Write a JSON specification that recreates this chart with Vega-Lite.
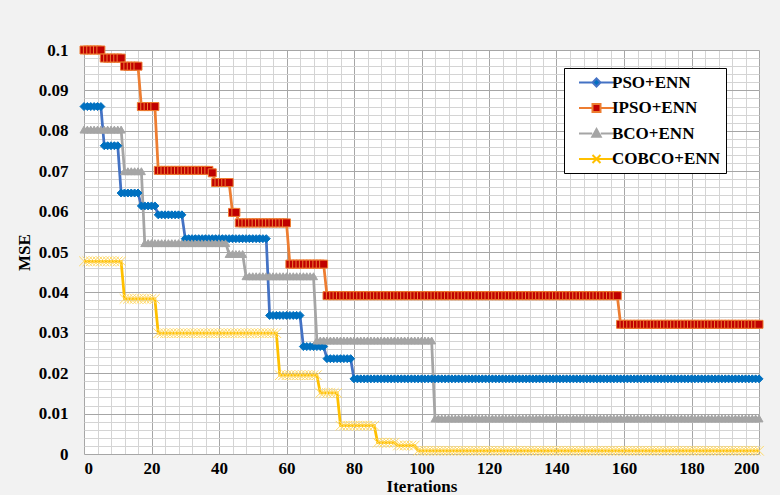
{
"$schema": "https://vega.github.io/schema/vega-lite/v6.json",
"width": 675, "height": 404,
"autosize": "none",
"padding": {"left": 84, "top": 50, "right": 21, "bottom": 41},
"background": "#f2f2f2",
"config": {
 "view": {"fill": "white", "stroke": null},
 "font": "Liberation Serif",
 "legend": {"orient": "none", "legendX": 480, "legendY": 18, "strokeColor": "black", "fillColor": "white", "padding": 6, "labelFont": "Liberation Serif", "labelFontWeight": "bold", "labelFontSize": 17, "labelColor": "black", "symbolSize": 100, "symbolStrokeWidth": 2, "rowPadding": 7.5, "symbolOffset": 18, "labelOffset": 7}
},
"data": {"values": [
{"i":0,"P":0.086,"I":0.1,"B":0.0803,"C":0.0477},
{"i":1,"P":0.086,"I":0.1,"B":0.0803,"C":0.0477},
{"i":2,"P":0.086,"I":0.1,"B":0.0803,"C":0.0477},
{"i":3,"P":0.086,"I":0.1,"B":0.0803,"C":0.0477},
{"i":4,"P":0.086,"I":0.1,"B":0.0803,"C":0.0477},
{"i":5,"P":0.086,"I":0.1,"B":0.0803,"C":0.0477},
{"i":6,"P":0.0763,"I":0.098,"B":0.0803,"C":0.0477},
{"i":7,"P":0.0763,"I":0.098,"B":0.0803,"C":0.0477},
{"i":8,"P":0.0763,"I":0.098,"B":0.0803,"C":0.0477},
{"i":9,"P":0.0763,"I":0.098,"B":0.0803,"C":0.0477},
{"i":10,"P":0.0763,"I":0.098,"B":0.0803,"C":0.0477},
{"i":11,"P":0.0646,"I":0.098,"B":0.0803,"C":0.0477},
{"i":12,"P":0.0646,"I":0.096,"B":0.07,"C":0.0384},
{"i":13,"P":0.0646,"I":0.096,"B":0.07,"C":0.0384},
{"i":14,"P":0.0646,"I":0.096,"B":0.07,"C":0.0384},
{"i":15,"P":0.0646,"I":0.096,"B":0.07,"C":0.0384},
{"i":16,"P":0.0646,"I":0.096,"B":0.07,"C":0.0384},
{"i":17,"P":0.0614,"I":0.086,"B":0.07,"C":0.0384},
{"i":18,"P":0.0614,"I":0.086,"B":0.0522,"C":0.0384},
{"i":19,"P":0.0614,"I":0.086,"B":0.0522,"C":0.0384},
{"i":20,"P":0.0614,"I":0.086,"B":0.0522,"C":0.0384},
{"i":21,"P":0.0614,"I":0.086,"B":0.0522,"C":0.0384},
{"i":22,"P":0.0592,"I":0.0702,"B":0.0522,"C":0.0299},
{"i":23,"P":0.0592,"I":0.0702,"B":0.0522,"C":0.0299},
{"i":24,"P":0.0592,"I":0.0702,"B":0.0522,"C":0.0299},
{"i":25,"P":0.0592,"I":0.0702,"B":0.0522,"C":0.0299},
{"i":26,"P":0.0592,"I":0.0702,"B":0.0522,"C":0.0299},
{"i":27,"P":0.0592,"I":0.0702,"B":0.0522,"C":0.0299},
{"i":28,"P":0.0592,"I":0.0702,"B":0.0522,"C":0.0299},
{"i":29,"P":0.0592,"I":0.0702,"B":0.0522,"C":0.0299},
{"i":30,"P":0.0533,"I":0.0702,"B":0.0522,"C":0.0299},
{"i":31,"P":0.0533,"I":0.0702,"B":0.0522,"C":0.0299},
{"i":32,"P":0.0533,"I":0.0702,"B":0.0522,"C":0.0299},
{"i":33,"P":0.0533,"I":0.0702,"B":0.0522,"C":0.0299},
{"i":34,"P":0.0533,"I":0.0702,"B":0.0522,"C":0.0299},
{"i":35,"P":0.0533,"I":0.0702,"B":0.0522,"C":0.0299},
{"i":36,"P":0.0533,"I":0.0702,"B":0.0522,"C":0.0299},
{"i":37,"P":0.0533,"I":0.0702,"B":0.0522,"C":0.0299},
{"i":38,"P":0.0533,"I":0.0696,"B":0.0522,"C":0.0299},
{"i":39,"P":0.0533,"I":0.0672,"B":0.0522,"C":0.0299},
{"i":40,"P":0.0533,"I":0.0672,"B":0.0522,"C":0.0299},
{"i":41,"P":0.0533,"I":0.0672,"B":0.0522,"C":0.0299},
{"i":42,"P":0.0533,"I":0.0672,"B":0.0522,"C":0.0299},
{"i":43,"P":0.0533,"I":0.0672,"B":0.0495,"C":0.0299},
{"i":44,"P":0.0533,"I":0.0598,"B":0.0495,"C":0.0299},
{"i":45,"P":0.0533,"I":0.0598,"B":0.0495,"C":0.0299},
{"i":46,"P":0.0533,"I":0.0572,"B":0.0495,"C":0.0299},
{"i":47,"P":0.0533,"I":0.0572,"B":0.0495,"C":0.0299},
{"i":48,"P":0.0533,"I":0.0572,"B":0.044,"C":0.0299},
{"i":49,"P":0.0533,"I":0.0572,"B":0.044,"C":0.0299},
{"i":50,"P":0.0533,"I":0.0572,"B":0.044,"C":0.0299},
{"i":51,"P":0.0533,"I":0.0572,"B":0.044,"C":0.0299},
{"i":52,"P":0.0533,"I":0.0572,"B":0.044,"C":0.0299},
{"i":53,"P":0.0533,"I":0.0572,"B":0.044,"C":0.0299},
{"i":54,"P":0.0533,"I":0.0572,"B":0.044,"C":0.0299},
{"i":55,"P":0.0343,"I":0.0572,"B":0.044,"C":0.0299},
{"i":56,"P":0.0343,"I":0.0572,"B":0.044,"C":0.0299},
{"i":57,"P":0.0343,"I":0.0572,"B":0.044,"C":0.0299},
{"i":58,"P":0.0343,"I":0.0572,"B":0.044,"C":0.0195},
{"i":59,"P":0.0343,"I":0.0572,"B":0.044,"C":0.0195},
{"i":60,"P":0.0343,"I":0.0572,"B":0.044,"C":0.0195},
{"i":61,"P":0.0343,"I":0.047,"B":0.044,"C":0.0195},
{"i":62,"P":0.0343,"I":0.047,"B":0.044,"C":0.0195},
{"i":63,"P":0.0343,"I":0.047,"B":0.044,"C":0.0195},
{"i":64,"P":0.0343,"I":0.047,"B":0.044,"C":0.0195},
{"i":65,"P":0.0266,"I":0.047,"B":0.044,"C":0.0195},
{"i":66,"P":0.0266,"I":0.047,"B":0.044,"C":0.0195},
{"i":67,"P":0.0266,"I":0.047,"B":0.044,"C":0.0195},
{"i":68,"P":0.0266,"I":0.047,"B":0.044,"C":0.0195},
{"i":69,"P":0.0266,"I":0.047,"B":0.0281,"C":0.0195},
{"i":70,"P":0.0266,"I":0.047,"B":0.0281,"C":0.0151},
{"i":71,"P":0.0266,"I":0.047,"B":0.0281,"C":0.0151},
{"i":72,"P":0.0236,"I":0.0392,"B":0.0281,"C":0.0151},
{"i":73,"P":0.0236,"I":0.0392,"B":0.0281,"C":0.0151},
{"i":74,"P":0.0236,"I":0.0392,"B":0.0281,"C":0.0151},
{"i":75,"P":0.0236,"I":0.0392,"B":0.0281,"C":0.0151},
{"i":76,"P":0.0236,"I":0.0392,"B":0.0281,"C":0.007},
{"i":77,"P":0.0236,"I":0.0392,"B":0.0281,"C":0.007},
{"i":78,"P":0.0236,"I":0.0392,"B":0.0281,"C":0.007},
{"i":79,"P":0.0236,"I":0.0392,"B":0.0281,"C":0.007},
{"i":80,"P":0.0186,"I":0.0392,"B":0.0281,"C":0.007},
{"i":81,"P":0.0186,"I":0.0392,"B":0.0281,"C":0.007},
{"i":82,"P":0.0186,"I":0.0392,"B":0.0281,"C":0.007},
{"i":83,"P":0.0186,"I":0.0392,"B":0.0281,"C":0.007},
{"i":84,"P":0.0186,"I":0.0392,"B":0.0281,"C":0.007},
{"i":85,"P":0.0186,"I":0.0392,"B":0.0281,"C":0.007},
{"i":86,"P":0.0186,"I":0.0392,"B":0.0281,"C":0.007},
{"i":87,"P":0.0186,"I":0.0392,"B":0.0281,"C":0.0028},
{"i":88,"P":0.0186,"I":0.0392,"B":0.0281,"C":0.0028},
{"i":89,"P":0.0186,"I":0.0392,"B":0.0281,"C":0.0028},
{"i":90,"P":0.0186,"I":0.0392,"B":0.0281,"C":0.0028},
{"i":91,"P":0.0186,"I":0.0392,"B":0.0281,"C":0.0028},
{"i":92,"P":0.0186,"I":0.0392,"B":0.0281,"C":0.0028},
{"i":93,"P":0.0186,"I":0.0392,"B":0.0281,"C":0.0021},
{"i":94,"P":0.0186,"I":0.0392,"B":0.0281,"C":0.0021},
{"i":95,"P":0.0186,"I":0.0392,"B":0.0281,"C":0.0021},
{"i":96,"P":0.0186,"I":0.0392,"B":0.0281,"C":0.0021},
{"i":97,"P":0.0186,"I":0.0392,"B":0.0281,"C":0.0021},
{"i":98,"P":0.0186,"I":0.0392,"B":0.0281,"C":0.0021},
{"i":99,"P":0.0186,"I":0.0392,"B":0.0281,"C":0.0008},
{"i":100,"P":0.0186,"I":0.0392,"B":0.0281,"C":0.0008},
{"i":101,"P":0.0186,"I":0.0392,"B":0.0281,"C":0.0008},
{"i":102,"P":0.0186,"I":0.0392,"B":0.0281,"C":0.0008},
{"i":103,"P":0.0186,"I":0.0392,"B":0.0281,"C":0.0008},
{"i":104,"P":0.0186,"I":0.0392,"B":0.0088,"C":0.0008},
{"i":105,"P":0.0186,"I":0.0392,"B":0.0088,"C":0.0008},
{"i":106,"P":0.0186,"I":0.0392,"B":0.0088,"C":0.0008},
{"i":107,"P":0.0186,"I":0.0392,"B":0.0088,"C":0.0008},
{"i":108,"P":0.0186,"I":0.0392,"B":0.0088,"C":0.0008},
{"i":109,"P":0.0186,"I":0.0392,"B":0.0088,"C":0.0008},
{"i":110,"P":0.0186,"I":0.0392,"B":0.0088,"C":0.0008},
{"i":111,"P":0.0186,"I":0.0392,"B":0.0088,"C":0.0008},
{"i":112,"P":0.0186,"I":0.0392,"B":0.0088,"C":0.0008},
{"i":113,"P":0.0186,"I":0.0392,"B":0.0088,"C":0.0008},
{"i":114,"P":0.0186,"I":0.0392,"B":0.0088,"C":0.0008},
{"i":115,"P":0.0186,"I":0.0392,"B":0.0088,"C":0.0008},
{"i":116,"P":0.0186,"I":0.0392,"B":0.0088,"C":0.0008},
{"i":117,"P":0.0186,"I":0.0392,"B":0.0088,"C":0.0008},
{"i":118,"P":0.0186,"I":0.0392,"B":0.0088,"C":0.0008},
{"i":119,"P":0.0186,"I":0.0392,"B":0.0088,"C":0.0008},
{"i":120,"P":0.0186,"I":0.0392,"B":0.0088,"C":0.0008},
{"i":121,"P":0.0186,"I":0.0392,"B":0.0088,"C":0.0008},
{"i":122,"P":0.0186,"I":0.0392,"B":0.0088,"C":0.0008},
{"i":123,"P":0.0186,"I":0.0392,"B":0.0088,"C":0.0008},
{"i":124,"P":0.0186,"I":0.0392,"B":0.0088,"C":0.0008},
{"i":125,"P":0.0186,"I":0.0392,"B":0.0088,"C":0.0008},
{"i":126,"P":0.0186,"I":0.0392,"B":0.0088,"C":0.0008},
{"i":127,"P":0.0186,"I":0.0392,"B":0.0088,"C":0.0008},
{"i":128,"P":0.0186,"I":0.0392,"B":0.0088,"C":0.0008},
{"i":129,"P":0.0186,"I":0.0392,"B":0.0088,"C":0.0008},
{"i":130,"P":0.0186,"I":0.0392,"B":0.0088,"C":0.0008},
{"i":131,"P":0.0186,"I":0.0392,"B":0.0088,"C":0.0008},
{"i":132,"P":0.0186,"I":0.0392,"B":0.0088,"C":0.0008},
{"i":133,"P":0.0186,"I":0.0392,"B":0.0088,"C":0.0008},
{"i":134,"P":0.0186,"I":0.0392,"B":0.0088,"C":0.0008},
{"i":135,"P":0.0186,"I":0.0392,"B":0.0088,"C":0.0008},
{"i":136,"P":0.0186,"I":0.0392,"B":0.0088,"C":0.0008},
{"i":137,"P":0.0186,"I":0.0392,"B":0.0088,"C":0.0008},
{"i":138,"P":0.0186,"I":0.0392,"B":0.0088,"C":0.0008},
{"i":139,"P":0.0186,"I":0.0392,"B":0.0088,"C":0.0008},
{"i":140,"P":0.0186,"I":0.0392,"B":0.0088,"C":0.0008},
{"i":141,"P":0.0186,"I":0.0392,"B":0.0088,"C":0.0008},
{"i":142,"P":0.0186,"I":0.0392,"B":0.0088,"C":0.0008},
{"i":143,"P":0.0186,"I":0.0392,"B":0.0088,"C":0.0008},
{"i":144,"P":0.0186,"I":0.0392,"B":0.0088,"C":0.0008},
{"i":145,"P":0.0186,"I":0.0392,"B":0.0088,"C":0.0008},
{"i":146,"P":0.0186,"I":0.0392,"B":0.0088,"C":0.0008},
{"i":147,"P":0.0186,"I":0.0392,"B":0.0088,"C":0.0008},
{"i":148,"P":0.0186,"I":0.0392,"B":0.0088,"C":0.0008},
{"i":149,"P":0.0186,"I":0.0392,"B":0.0088,"C":0.0008},
{"i":150,"P":0.0186,"I":0.0392,"B":0.0088,"C":0.0008},
{"i":151,"P":0.0186,"I":0.0392,"B":0.0088,"C":0.0008},
{"i":152,"P":0.0186,"I":0.0392,"B":0.0088,"C":0.0008},
{"i":153,"P":0.0186,"I":0.0392,"B":0.0088,"C":0.0008},
{"i":154,"P":0.0186,"I":0.0392,"B":0.0088,"C":0.0008},
{"i":155,"P":0.0186,"I":0.0392,"B":0.0088,"C":0.0008},
{"i":156,"P":0.0186,"I":0.0392,"B":0.0088,"C":0.0008},
{"i":157,"P":0.0186,"I":0.0392,"B":0.0088,"C":0.0008},
{"i":158,"P":0.0186,"I":0.0392,"B":0.0088,"C":0.0008},
{"i":159,"P":0.0186,"I":0.0321,"B":0.0088,"C":0.0008},
{"i":160,"P":0.0186,"I":0.0321,"B":0.0088,"C":0.0008},
{"i":161,"P":0.0186,"I":0.0321,"B":0.0088,"C":0.0008},
{"i":162,"P":0.0186,"I":0.0321,"B":0.0088,"C":0.0008},
{"i":163,"P":0.0186,"I":0.0321,"B":0.0088,"C":0.0008},
{"i":164,"P":0.0186,"I":0.0321,"B":0.0088,"C":0.0008},
{"i":165,"P":0.0186,"I":0.0321,"B":0.0088,"C":0.0008},
{"i":166,"P":0.0186,"I":0.0321,"B":0.0088,"C":0.0008},
{"i":167,"P":0.0186,"I":0.0321,"B":0.0088,"C":0.0008},
{"i":168,"P":0.0186,"I":0.0321,"B":0.0088,"C":0.0008},
{"i":169,"P":0.0186,"I":0.0321,"B":0.0088,"C":0.0008},
{"i":170,"P":0.0186,"I":0.0321,"B":0.0088,"C":0.0008},
{"i":171,"P":0.0186,"I":0.0321,"B":0.0088,"C":0.0008},
{"i":172,"P":0.0186,"I":0.0321,"B":0.0088,"C":0.0008},
{"i":173,"P":0.0186,"I":0.0321,"B":0.0088,"C":0.0008},
{"i":174,"P":0.0186,"I":0.0321,"B":0.0088,"C":0.0008},
{"i":175,"P":0.0186,"I":0.0321,"B":0.0088,"C":0.0008},
{"i":176,"P":0.0186,"I":0.0321,"B":0.0088,"C":0.0008},
{"i":177,"P":0.0186,"I":0.0321,"B":0.0088,"C":0.0008},
{"i":178,"P":0.0186,"I":0.0321,"B":0.0088,"C":0.0008},
{"i":179,"P":0.0186,"I":0.0321,"B":0.0088,"C":0.0008},
{"i":180,"P":0.0186,"I":0.0321,"B":0.0088,"C":0.0008},
{"i":181,"P":0.0186,"I":0.0321,"B":0.0088,"C":0.0008},
{"i":182,"P":0.0186,"I":0.0321,"B":0.0088,"C":0.0008},
{"i":183,"P":0.0186,"I":0.0321,"B":0.0088,"C":0.0008},
{"i":184,"P":0.0186,"I":0.0321,"B":0.0088,"C":0.0008},
{"i":185,"P":0.0186,"I":0.0321,"B":0.0088,"C":0.0008},
{"i":186,"P":0.0186,"I":0.0321,"B":0.0088,"C":0.0008},
{"i":187,"P":0.0186,"I":0.0321,"B":0.0088,"C":0.0008},
{"i":188,"P":0.0186,"I":0.0321,"B":0.0088,"C":0.0008},
{"i":189,"P":0.0186,"I":0.0321,"B":0.0088,"C":0.0008},
{"i":190,"P":0.0186,"I":0.0321,"B":0.0088,"C":0.0008},
{"i":191,"P":0.0186,"I":0.0321,"B":0.0088,"C":0.0008},
{"i":192,"P":0.0186,"I":0.0321,"B":0.0088,"C":0.0008},
{"i":193,"P":0.0186,"I":0.0321,"B":0.0088,"C":0.0008},
{"i":194,"P":0.0186,"I":0.0321,"B":0.0088,"C":0.0008},
{"i":195,"P":0.0186,"I":0.0321,"B":0.0088,"C":0.0008},
{"i":196,"P":0.0186,"I":0.0321,"B":0.0088,"C":0.0008},
{"i":197,"P":0.0186,"I":0.0321,"B":0.0088,"C":0.0008},
{"i":198,"P":0.0186,"I":0.0321,"B":0.0088,"C":0.0008},
{"i":199,"P":0.0186,"I":0.0321,"B":0.0088,"C":0.0008},
{"i":200,"P":0.0186,"I":0.0321,"B":0.0088,"C":0.0008}
]},
"transform": [{"fold": ["P", "I", "B", "C"], "as": ["s", "v"]}],
"layer": [
 {
  "mark": {"type": "line", "strokeWidth": 2.75, "clip": false},
  "encoding": {
   "x": {"field": "i", "type": "quantitative", "scale": {"domain": [0, 200], "nice": false},
    "axis": {"orient": "bottom", "values": [0,4,8,12,16,20,24,28,32,36,40,44,48,52,56,60,64,68,72,76,80,84,88,92,96,100,104,108,112,116,120,124,128,132,136,140,144,148,152,156,160,164,168,172,176,180,184,188,192,196,200], "grid": true, "gridColor": "#d4d4d4", "labels": false, "ticks": false, "domain": false, "title": null}},
   "y": {"field": "v", "type": "quantitative", "scale": {"domain": [0, 0.1], "nice": false},
    "axis": {"orient": "left", "values": [0,0.002,0.004,0.006,0.008,0.01,0.012,0.014,0.016,0.018,0.02,0.022,0.024,0.026,0.028,0.03,0.032,0.034,0.036,0.038,0.04,0.042,0.044,0.046,0.048,0.05,0.052,0.054,0.056,0.058,0.06,0.062,0.064,0.066,0.068,0.07,0.072,0.074,0.076,0.078,0.08,0.082,0.084,0.086,0.088,0.09,0.092,0.094,0.096,0.098,0.1], "grid": true, "gridColor": "#d4d4d4", "labels": false, "ticks": false, "domain": false, "title": null}},
   "color": {"field": "s", "type": "nominal", "scale": {"domain": ["P", "I", "B", "C"], "range": ["#4472c4", "#ed7d31", "#a5a5a5", "#ffc000"]}, "legend": null}
  }
 },
 {
  "mark": {"type": "point", "filled": true, "size": 64, "strokeWidth": 1, "opacity": 1},
  "encoding": {
   "x": {"field": "i", "type": "quantitative",
    "axis": {"orient": "bottom", "values": [0,20,40,60,80,100,120,140,160,180,200], "grid": true, "gridColor": "#a6a6a6", "domain": false, "ticks": false, "tickSize": 0, "labelPadding": 6, "labelFont": "Liberation Serif", "labelFontWeight": "bold", "labelFontSize": 17, "labelColor": "black", "title": "Iterations", "titleFont": "Liberation Serif", "titleFontWeight": "bold", "titleFontSize": 17, "titleColor": "black", "titlePadding": 2}},
   "y": {"field": "v", "type": "quantitative",
    "axis": {"orient": "left", "values": [0,0.01,0.02,0.03,0.04,0.05,0.06,0.07,0.08,0.09,0.1], "format": "~g", "grid": true, "gridColor": "#a6a6a6", "domain": false, "ticks": false, "tickSize": 0, "labelPadding": 16, "labelFont": "Liberation Serif", "labelFontWeight": "bold", "labelFontSize": 17, "labelColor": "black", "title": "MSE", "titleFont": "Liberation Serif", "titleFontWeight": "bold", "titleFontSize": 17, "titleColor": "black", "titlePadding": 5}},
   "shape": {"field": "s", "type": "nominal", "scale": {"domain": ["P", "I", "B", "C"], "range": ["diamond", "square", "triangle-up", "M-1.2,-1.2L1.2,1.2M-1.2,1.2L1.2,-1.2"]}, "legend": null},
   "fill": {"field": "s", "type": "nominal", "scale": {"domain": ["P", "I", "B", "C"], "range": ["#0070c0", "#c00000", "#a5a5a5", "#ffd966"]}, "legend": null},
   "stroke": {"field": "s", "type": "nominal", "scale": {"domain": ["P", "I", "B", "C"], "range": ["#0070c0", "#ed7d31", "#a5a5a5", "#ffd966"]}, "legend": null}
  }
 },
 {
  "mark": {"type": "point", "filled": true, "opacity": 0},
  "encoding": {
   "x": {"field": "i", "type": "quantitative", "axis": null},
   "y": {"field": "v", "type": "quantitative", "axis": null},
   "shape": {"field": "s", "type": "nominal", "scale": {"domain": ["P", "I", "B", "C"], "range": ["M-3.5,0H-0.8M0.8,0H3.5M0,-0.8L0.8,0L0,0.8L-0.8,0Z", "M-3.5,0H-0.8M0.8,0H3.5M-0.8,-0.8H0.8V0.8H-0.8Z", "M-3.5,0H-0.85M0.85,0H3.5M0,-0.9L0.85,0.65H-0.85Z", "M-3.5,0H3.5M-0.8,-0.8L0.8,0.8M-0.8,0.8L0.8,-0.8"]},
    "legend": {"title": null, "symbolFillColor": "black", "labelExpr": "datum.label == 'P' ? 'PSO+ENN' : datum.label == 'I' ? 'IPSO+ENN' : datum.label == 'B' ? 'BCO+ENN' : 'COBCO+ENN'"}},
   "fill": {"field": "s", "type": "nominal", "scale": {"domain": ["P", "I", "B", "C"], "range": ["#0070c0", "#c00000", "#a5a5a5", "#ffc000"]},
    "legend": {"title": null, "symbolFillColor": "black", "labelExpr": "datum.label == 'P' ? 'PSO+ENN' : datum.label == 'I' ? 'IPSO+ENN' : datum.label == 'B' ? 'BCO+ENN' : 'COBCO+ENN'"}},
   "stroke": {"field": "s", "type": "nominal", "scale": {"domain": ["P", "I", "B", "C"], "range": ["#4472c4", "#ed7d31", "#a5a5a5", "#ffc000"]},
    "legend": {"title": null, "symbolFillColor": "black", "labelExpr": "datum.label == 'P' ? 'PSO+ENN' : datum.label == 'I' ? 'IPSO+ENN' : datum.label == 'B' ? 'BCO+ENN' : 'COBCO+ENN'"}}
  }
 }
],
"resolve": {"axis": {"x": "independent", "y": "independent"}, "scale": {"shape": "independent", "fill": "independent", "stroke": "independent"}}
}
